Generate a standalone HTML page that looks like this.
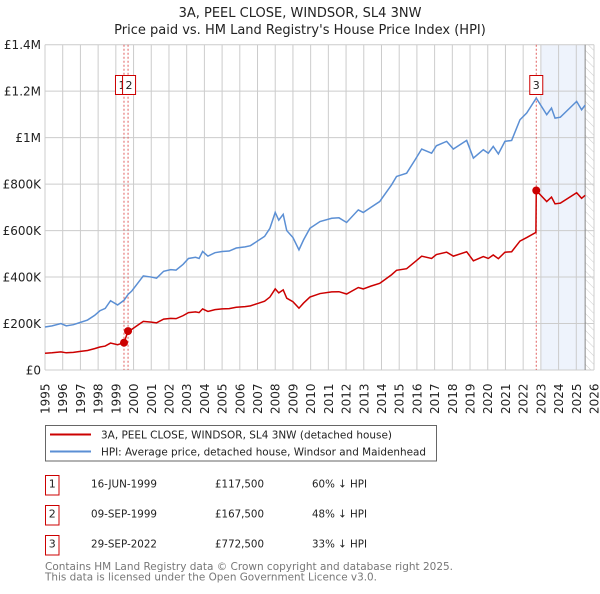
<!DOCTYPE html>
<html><head><meta charset="utf-8"><style>
body{margin:0;background:#fff;font-family:"DejaVu Sans","Liberation Sans",sans-serif;}
svg text{font-family:"DejaVu Sans","Liberation Sans",sans-serif;}
</style></head><body>
<svg id="chart" width="600" height="590" xmlns="http://www.w3.org/2000/svg">
<defs><pattern id="hatch" width="6" height="6" patternUnits="userSpaceOnUse" patternTransform="rotate(-45)"><line x1="0" y1="0" x2="0" y2="6" stroke="#ccc" stroke-width="1"/></pattern></defs>
<text x="300" y="17" text-anchor="middle" font-size="13" fill="#222">3A, PEEL CLOSE, WINDSOR, SL4 3NW</text>
<text x="300" y="34" text-anchor="middle" font-size="13" fill="#222">Price paid vs. HM Land Registry's House Price Index (HPI)</text>
<g id="plot"></g>
<g>
<rect x="45.5" y="425.5" width="391" height="35.5" fill="#fff" stroke="#666"/>
<line x1="50" y1="434.5" x2="91" y2="434.5" stroke="#cc0000" stroke-width="2"/>
<text x="101" y="438.5" font-size="11" fill="#222" textLength="291" lengthAdjust="spacingAndGlyphs">3A, PEEL CLOSE, WINDSOR, SL4 3NW (detached house)</text>
<line x1="50" y1="451.5" x2="91" y2="451.5" stroke="#5b8fd4" stroke-width="2"/>
<text x="101" y="455.5" font-size="11" fill="#222" textLength="325" lengthAdjust="spacingAndGlyphs">HPI: Average price, detached house, Windsor and Maidenhead</text>
</g>
<g font-size="11" fill="#222">
<rect x="45.5" y="475.5" width="13.5" height="19.5" fill="#fff" stroke="#cc0000"/><text x="52.3" y="487.5" text-anchor="middle">1</text>
<text x="91" y="487.5" textLength="66" lengthAdjust="spacingAndGlyphs">16-JUN-1999</text><text x="215" y="487.5" textLength="49" lengthAdjust="spacingAndGlyphs">£117,500</text><text x="312" y="487.5" textLength="55" lengthAdjust="spacingAndGlyphs">60% ↓ HPI</text>
<rect x="45.5" y="505.5" width="13.5" height="19.5" fill="#fff" stroke="#cc0000"/><text x="52.3" y="517.5" text-anchor="middle">2</text>
<text x="91" y="517.5" textLength="66" lengthAdjust="spacingAndGlyphs">09-SEP-1999</text><text x="215" y="517.5" textLength="49" lengthAdjust="spacingAndGlyphs">£167,500</text><text x="312" y="517.5" textLength="55" lengthAdjust="spacingAndGlyphs">48% ↓ HPI</text>
<rect x="45.5" y="535.5" width="13.5" height="19.5" fill="#fff" stroke="#cc0000"/><text x="52.3" y="547.5" text-anchor="middle">3</text>
<text x="91" y="547.5" textLength="66" lengthAdjust="spacingAndGlyphs">29-SEP-2022</text><text x="215" y="547.5" textLength="49" lengthAdjust="spacingAndGlyphs">£772,500</text><text x="312" y="547.5" textLength="55" lengthAdjust="spacingAndGlyphs">33% ↓ HPI</text>
</g>
<text x="45" y="570" font-size="11" fill="#777" textLength="408" lengthAdjust="spacingAndGlyphs">Contains HM Land Registry data © Crown copyright and database right 2025.</text>
<text x="45" y="580.5" font-size="11" fill="#777" textLength="332" lengthAdjust="spacingAndGlyphs">This data is licensed under the Open Government Licence v3.0.</text>
</svg>
<script>
const hpiYears=[1995.0,1995.4,1995.9,1996.2,1996.6,1997.0,1997.4,1997.8,1998.1,1998.4,1998.7,1999.1,1999.46,1999.69,1999.9,2000.2,2000.55,2001.0,2001.3,2001.7,2002.1,2002.4,2002.8,2003.1,2003.5,2003.7,2003.9,2004.2,2004.6,2005.0,2005.4,2005.8,2006.3,2006.6,2007.0,2007.4,2007.7,2008.0,2008.2,2008.45,2008.65,2009.0,2009.34,2009.6,2009.96,2010.53,2011.19,2011.6,2012.03,2012.69,2012.97,2013.4,2013.9,2014.57,2014.85,2015.42,2015.9,2016.27,2016.83,2017.1,2017.68,2018.06,2018.81,2019.19,2019.75,2020.03,2020.31,2020.6,2020.97,2021.35,2021.82,2022.2,2022.74,2023.33,2023.6,2023.8,2024.1,2025.02,2025.3,2025.5];
const hpiValues=[185,190,200,190,195,205,215,235,255,265,298,280,300,325,340,370,405,400,395,425,432,430,455,480,485,480,510,490,505,510,512,525,530,535,555,575,610,678,645,670,600,570,517,560,610,639,653,655,635,689,678,700,725,797,833,847,905,951,933,965,984,951,988,912,948,933,962,930,984,988,1077,1106,1170,1099,1127,1084,1088,1156,1120,1140];
const priceYears=[1995.0,1995.4,1995.9,1996.2,1996.6,1997.0,1997.4,1997.8,1998.1,1998.4,1998.7,1999.1,1999.46,1999.69,1999.9,2000.2,2000.55,2001.0,2001.3,2001.7,2002.1,2002.4,2002.8,2003.1,2003.5,2003.7,2003.9,2004.2,2004.6,2005.0,2005.4,2005.8,2006.3,2006.6,2007.0,2007.4,2007.7,2008.0,2008.2,2008.45,2008.65,2009.0,2009.34,2009.6,2009.96,2010.53,2011.19,2011.6,2012.03,2012.69,2012.97,2013.4,2013.9,2014.57,2014.85,2015.42,2015.9,2016.27,2016.83,2017.1,2017.68,2018.06,2018.81,2019.19,2019.75,2020.03,2020.31,2020.6,2020.97,2021.35,2021.82,2022.2,2022.72,2022.74,2023.33,2023.6,2023.8,2024.1,2025.02,2025.3,2025.5];
const priceValues=[72,74,78,74,76,80,84,92,99,103,116,109,117.5,167.5,175,191,209,206,203,219,222,221,234,247,250,247,263,252,260,263,264,270,273,276,286,296,314,349,332,345,309,294,266,288,314,329,336,337,327,355,349,361,373,410,429,436,466,490,480,497,507,490,509,470,488,480,495,479,507,509,555,570,592,772.5,725,744,715,718,763,739,752];
const saleLabels=["1","2","3"];
const saleYears=[1999.46,1999.69,2022.74];
const saleValues=[117.5,167.5,772.5];
const yTickValues=[0,200,400,600,800,1000,1200,1400];
const yTickLabels=["£0","£200K","£400K","£600K","£800K","£1M","£1.2M","£1.4M"];
const xTickYears=[1995,1996,1997,1998,1999,2000,2001,2002,2003,2004,2005,2006,2007,2008,2009,2010,2011,2012,2013,2014,2015,2016,2017,2018,2019,2020,2021,2022,2023,2024,2025,2026];

const X0=45,X1=594,Y0=370,Y1=44.7;
const xs=y=>X0+(y-1995)/31*(X1-X0);
const ys=v=>Y0-v/1400*(Y0-Y1);
const NS='http://www.w3.org/2000/svg';
const g=document.getElementById('plot');
function mk(t,a,p){const e=document.createElementNS(NS,t);for(const k in a)e.setAttribute(k,a[k]);(p||g).appendChild(e);return e;}

const shade=mk('rect',{x:xs(2023),y:Y1,width:xs(2025.5)-xs(2023),height:Y0-Y1,fill:'#eef3fc'});


const hat=mk('rect',{x:xs(2025.5),y:Y1,width:X1-xs(2025.5),height:Y0-Y1,fill:'url(#hatch)'});



xTickYears.forEach(yr=>{
  const x=xs(yr);
  const l=mk('line',{x1:x,y1:Y1,x2:x,y2:Y0,stroke:'#ccc','stroke-width':1});
  
  
  const t=mk('text',{x:0,y:0,transform:`translate(${x+4.5},${Y0+44}) rotate(-90)`,'font-size':12,fill:'#222'});
  t.textContent=yr;
  
  
});
yTickValues.forEach((v,i)=>{
  const y=ys(v);
  const l=mk('line',{x1:X0,y1:y,x2:X1,y2:y,stroke:'#ccc','stroke-width':1});
  
  
  const t=mk('text',{x:X0-4,y:y+4.5,'text-anchor':'end','font-size':12,fill:'#222'});
  t.textContent=yTickLabels[i];
  
  
});
const edge=mk('line',{x1:xs(2025.5),y1:Y1,x2:xs(2025.5),y2:Y0,stroke:'#888','stroke-width':1});



saleYears.forEach((yr,i)=>{
  const x=xs(yr);
  const l=mk('line',{x1:x,y1:Y1,x2:x,y2:Y0,stroke:'#e06060','stroke-width':1,'stroke-dasharray':'2,2'});
  
  
});

const hp=mk('polyline',{points:hpiYears.map((y,i)=>xs(y)+','+ys(hpiValues[i])).join(' '),fill:'none',stroke:'#5b8fd4','stroke-width':1.5});


const pp=mk('polyline',{points:priceYears.map((y,i)=>xs(y)+','+ys(priceValues[i])).join(' '),fill:'none',stroke:'#cc0000','stroke-width':1.5});



saleYears.forEach((yr,i)=>{
  const c=mk('circle',{cx:xs(yr),cy:ys(saleValues[i]),r:4,fill:'#cc0000'});
  
  
});
const boxX=[xs(saleYears[0])-9,xs(saleYears[1])-6,xs(saleYears[2])-7];
saleLabels.forEach((lb,i)=>{
  const r=mk('rect',{x:boxX[i]+0.5,y:75.5,width:13,height:19,fill:'#fff',stroke:'#cc0000'});
  
  
  const t=mk('text',{x:boxX[i]+7,y:89,'text-anchor':'middle','font-size':11,fill:'#222'});
  t.textContent=lb;
  
  
});
</script>
</body></html>
